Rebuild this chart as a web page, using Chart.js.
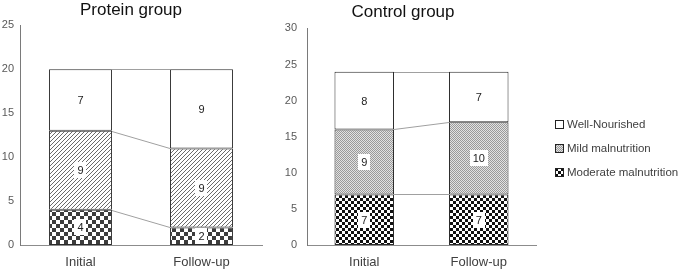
<!DOCTYPE html>
<html>
<head>
<meta charset="utf-8">
<script src="https://cdn.jsdelivr.net/npm/chart.js@4.4.1/dist/chart.umd.min.js"></script>
<style>
  html, body { margin: 0; padding: 0; background: #fff; }
  #wrap { position: relative; width: 685px; height: 274px; overflow: hidden; background: #fff; }
  canvas { position: absolute; top: 0; }
  #legend { position: absolute; left: 555px; top: 112px; font-family: "Liberation Sans", Arial, sans-serif; font-size: 11.5px; color: #404040; }
  .item { height: 24px; display: flex; align-items: center; white-space: nowrap; }
  .item canvas { position: static; margin-right: 3px; }
</style>
</head>
<body>
<div id="wrap">
  <canvas id="c1" width="270" height="274" style="left:0px"></canvas>
  <canvas id="c2" width="298" height="274" style="left:270px"></canvas>
  <div id="legend"></div>
</div>
<script>
const categories = ['Initial', 'Follow-up'];
const seriesNames = ['Well-Nourished', 'Mild malnutrition', 'Moderate malnutrition'];
const proteinTitle = 'Protein group';
const controlTitle = 'Control group';
const proteinModerate = [4, 2];
const proteinMild = [9, 9];
const proteinWell = [7, 9];
const controlModerate = [7, 7];
const controlMild = [9, 10];
const controlWell = [8, 7];
const proteinMax = 25;
const controlMax = 30;
const tickStep = 5;

function makePattern(size, drawFn) {
  const c = document.createElement('canvas');
  c.width = size; c.height = size;
  const ctx = c.getContext('2d');
  drawFn(ctx, size);
  return document.createElement('canvas').getContext('2d').createPattern(c, 'repeat');
}
const hatch = makePattern(4, (ctx, s) => {
  ctx.fillStyle = '#fff'; ctx.fillRect(0, 0, s, s);
  ctx.fillStyle = '#6a6a6a';
  for (let i = 0; i < s; i++) ctx.fillRect(i, s - 1 - i, 1, 1);
});
const checkerP = makePattern(8, (ctx, s) => {
  ctx.fillStyle = '#fff'; ctx.fillRect(0, 0, s, s);
  ctx.fillStyle = '#3c3c3c';
  ctx.fillRect(0, 0, 4, 4); ctx.fillRect(4, 4, 4, 4);
});
const checkerC = makePattern(6, (ctx, s) => {
  ctx.fillStyle = '#fff'; ctx.fillRect(0, 0, s, s);
  ctx.fillStyle = '#111';
  ctx.fillRect(0, 0, 3, 3); ctx.fillRect(3, 3, 3, 3);
});
const dots = makePattern(2, (ctx, s) => {
  ctx.fillStyle = '#e2e2e2'; ctx.fillRect(0, 0, s, s);
  ctx.fillStyle = '#9a9a9a';
  ctx.fillRect(0, 0, 1, 1); ctx.fillRect(1, 1, 1, 1);
});

const connectors = {
  id: 'connectors',
  beforeDatasetsDraw(chart) {
    const ctx = chart.ctx;
    ctx.save();
    ctx.strokeStyle = '#a0a0a0';
    ctx.lineWidth = 1;
    chart.data.datasets.forEach((ds, i) => {
      const m = chart.getDatasetMeta(i).data;
      const a = m[0], b = m[1];
      ctx.beginPath();
      ctx.moveTo(a.x + a.width / 2, Math.round(a.y) + 0.5);
      ctx.lineTo(b.x - b.width / 2, Math.round(b.y) + 0.5);
      ctx.stroke();
    });
    ctx.restore();
  }
};
const labels = {
  id: 'segLabels',
  afterDatasetsDraw(chart) {
    const ctx = chart.ctx;
    ctx.save();
    ctx.font = '11px "Liberation Sans", Arial, sans-serif';
    ctx.textAlign = 'center';
    ctx.textBaseline = 'middle';
    chart.data.datasets.forEach((ds, i) => {
      chart.getDatasetMeta(i).data.forEach((el, j) => {
        const v = ds.data[j];
        const cy = (el.y + el.base) / 2;
        const t = String(v);
        const w = ctx.measureText(t).width + 6;
        if (ds.boxed) {
          ctx.fillStyle = '#fff';
          ctx.fillRect(Math.round(el.x - w / 2), Math.round(cy - 8), Math.round(w), 16);
        }
        ctx.fillStyle = '#222';
        ctx.fillText(t, el.x, cy + 1);
      });
    });
    ctx.restore();
  }
};

function buildChart(id, title, moderate, mild, well, modPat, mildPat, max, yWidth, yPad, titlePad, padRight) {
  const mk = (label, data, bg, boxed) => ({
    label, data, backgroundColor: bg, borderColor: '#2a2a2a', borderWidth: 1,
    borderSkipped: false, categoryPercentage: 1, barPercentage: 0.52, boxed
  });
  return new Chart(document.getElementById(id), {
    type: 'bar',
    data: {
      labels: categories,
      datasets: [
        mk(seriesNames[2], moderate, modPat, true),
        mk(seriesNames[1], mild, mildPat, true),
        mk(seriesNames[0], well, '#ffffff', false)
      ]
    },
    options: {
      responsive: false,
      animation: false,
      events: [],
      layout: { padding: { left: 0, right: padRight, top: 0, bottom: 0 } },
      plugins: {
        legend: { display: false },
        tooltip: { enabled: false },
        title: {
          display: true, text: title, color: '#111',
          font: { family: '"Liberation Sans", Arial, sans-serif', size: 17, weight: 'normal' },
          padding: titlePad
        }
      },
      scales: {
        x: {
          stacked: true,
          grid: { display: false, drawTicks: false },
          border: { display: true, color: '#8c8c8c', width: 1 },
          ticks: { color: '#404040', padding: 10, font: { family: '"Liberation Sans", Arial, sans-serif', size: 13 } },
          afterFit(s) { s.height = 29; }
        },
        y: {
          stacked: true, min: 0, max: max,
          grid: { display: false, drawTicks: false },
          border: { display: true, color: '#7a7a7a', width: 1 },
          ticks: { stepSize: tickStep, color: '#595959', padding: yPad, font: { family: '"Liberation Sans", Arial, sans-serif', size: 11 } },
          afterFit(s) { s.width = yWidth; }
        }
      }
    },
    plugins: [connectors, labels]
  });
}

buildChart('c1', proteinTitle, proteinModerate, proteinMild, proteinWell, checkerP, hatch, proteinMax, 20, 6, { top: 0, bottom: 5 }, 8);
buildChart('c2', controlTitle, controlModerate, controlMild, controlWell, checkerC, dots, controlMax, 37, 10, { top: 2, bottom: 6 }, 32);

// Legend
const legendPats = ['#ffffff', dots, checkerC];
const legendEl = document.getElementById('legend');
seriesNames.forEach((name, i) => {
  const item = document.createElement('div');
  item.className = 'item';
  const sw = document.createElement('canvas');
  sw.width = 9; sw.height = 9;
  const sctx = sw.getContext('2d');
  sctx.fillStyle = legendPats[i];
  sctx.fillRect(0, 0, 9, 9);
  sctx.strokeStyle = '#222';
  sctx.strokeRect(0.5, 0.5, 8, 8);
  item.appendChild(sw);
  const span = document.createElement('span');
  span.textContent = name;
  item.appendChild(span);
  legendEl.appendChild(item);
});
</script>
</body>
</html>
